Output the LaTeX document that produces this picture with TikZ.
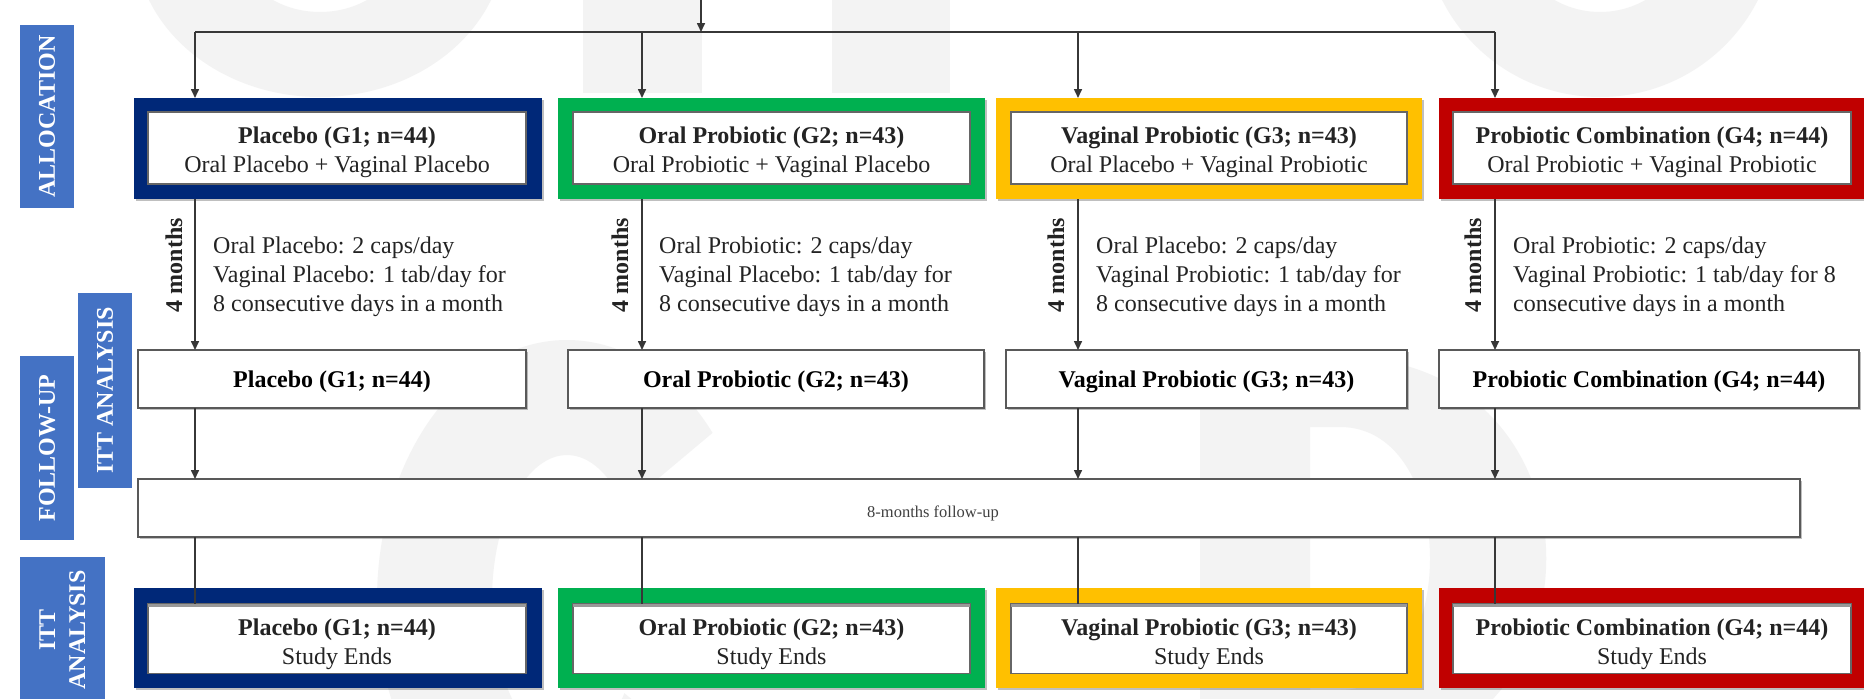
\documentclass[tikz,border=0pt]{standalone}
\usepackage{fontspec}
\setmainfont{Liberation Serif}
\usetikzlibrary{arrows.meta,calc,shadows}
\definecolor{gnavy}{RGB}{0,40,120}
\definecolor{ggreen}{RGB}{0,176,80}
\definecolor{gyellow}{RGB}{255,192,0}
\definecolor{gred}{RGB}{192,0,0}
\definecolor{lblue}{RGB}{68,114,196}
\definecolor{lin}{RGB}{55,55,55}
\definecolor{txt}{RGB}{35,35,35}
\definecolor{wm}{RGB}{243,243,243}
\begin{document}
\begin{tikzpicture}[x=1pt,y=-1pt,
  font=\fontsize{24}{29}\selectfont,
  shad/.style={drop shadow={shadow xshift=1.5pt, shadow yshift=-1.5pt, opacity=0.25, fill=black}},
  frame/.style={fill=#1, inner sep=0pt, outer sep=0pt, shad},
  innerbox/.style={fill=white, draw=black!60, line width=1.5pt, inner sep=0pt, outer sep=0pt},
  boxtext/.style={align=center, inner sep=0pt, text=txt},
  fubox/.style={fill=white, draw=black!65, line width=2pt, inner sep=0pt, outer sep=0pt, shad},
  futext/.style={inner sep=0pt, font=\fontsize{24}{29}\selectfont\bfseries, text=black},
  phase/.style={fill=lblue, text=white, inner sep=0pt, outer sep=0pt, align=center, rotate=90, font=\fontsize{24}{30}\selectfont\bfseries},
  arr/.style={draw=lin, line width=1.6pt, -{Triangle[length=9pt,width=8pt]}},
  conn/.style={draw=lin, line width=1.6pt},
  dose/.style={anchor=west, align=left, inner sep=0pt, text=txt},
  months/.style={rotate=90, font=\fontsize{24}{29}\selectfont\bfseries, inner sep=0pt, text=txt}
]
\fill[white] (0,0) rectangle (1864,699);
\useasboundingbox (0,0) rectangle (1864,699);

% faint watermark shapes
\begin{scope}
\clip (0,0) rectangle (1864,699);
\fill[wm, even odd rule] (320,-60) ellipse [x radius=185pt, y radius=157pt] (320,-60) ellipse [x radius=85pt, y radius=72pt];
\fill[wm] (583,0) rectangle (702,93);
\fill[wm] (832,0) rectangle (950,93);
\fill[wm, even odd rule] (1600,-80) circle [radius=177pt] (1600,-80) circle [radius=92pt];
\fill[wm] ($(567,600)+(40:190pt and 260pt)$) arc[start angle=40, end angle=320, x radius=190pt, y radius=260pt]
   -- ($(567,600)+(320:75pt and 145pt)$) arc[start angle=320, end angle=40, x radius=75pt, y radius=145pt] -- cycle;
\fill[wm, even odd rule] (1200,357) -- (1340,357) .. controls (1615,357) and (1615,760) .. (1340,760) -- (1200,760) -- cycle
   (1310,427) -- (1340,427) .. controls (1460,427) and (1460,690) .. (1340,690) -- (1310,690) -- cycle;
\end{scope}

% phase labels
\node[phase, minimum width=183pt, minimum height=54pt] (pAlloc) at (47,116.5) {ALLOCATION};
\node[phase, minimum width=184pt, minimum height=54pt] (pFollow) at (47,448) {FOLLOW-UP};
\node[phase, minimum width=195pt, minimum height=54pt] (pITT1) at (105,390.5) {ITT ANALYSIS};
\node[phase, minimum width=146pt, minimum height=85pt] (pITT2) at (62.5,630) {ITT\\ANALYSIS};

% allocation boxes
\node[frame=gnavy, minimum width=408pt, minimum height=101pt] (A1o) at (338,148.5) {};
\node[innerbox, minimum width=378pt, minimum height=72pt] (A1) at (337,148) {};
\node[boxtext] (A1t) at ($(A1)+(0,4)$) {\textbf{Placebo (G1; n=44)}\\Oral Placebo + Vaginal Placebo};
\node[frame=ggreen, minimum width=427pt, minimum height=101pt] (A2o) at (771.5,148.5) {};
\node[innerbox, minimum width=397pt, minimum height=72pt] (A2) at (771.5,148) {};
\node[boxtext] (A2t) at ($(A2)+(0,4)$) {\textbf{Oral Probiotic (G2; n=43)}\\Oral Probiotic + Vaginal Placebo};
\node[frame=gyellow, minimum width=426pt, minimum height=101pt] (A3o) at (1209,148.5) {};
\node[innerbox, minimum width=396pt, minimum height=72pt] (A3) at (1209,148) {};
\node[boxtext] (A3t) at ($(A3)+(0,4)$) {\textbf{Vaginal Probiotic (G3; n=43)}\\Oral Placebo + Vaginal Probiotic};
\node[frame=gred, minimum width=425pt, minimum height=101pt] (A4o) at (1651.5,148.5) {};
\node[innerbox, minimum width=398pt, minimum height=72pt] (A4) at (1652,148) {};
\node[boxtext] (A4t) at ($(A4)+(0,4)$) {\textbf{Probiotic Combination (G4; n=44)}\\Oral Probiotic + Vaginal Probiotic};

% follow-up boxes
\node[fubox, minimum width=388pt, minimum height=58pt] (F1) at (332,379) {};
\node[futext] (F1t) at ($(F1)+(0,3)$) {Placebo (G1; n=44)};
\node[fubox, minimum width=416pt, minimum height=58pt] (F2) at (776,379) {};
\node[futext] (F2t) at ($(F2)+(0,3)$) {Oral Probiotic (G2; n=43)};
\node[fubox, minimum width=401pt, minimum height=58pt] (F3) at (1206.5,379) {};
\node[futext] (F3t) at ($(F3)+(0,3)$) {Vaginal Probiotic (G3; n=43)};
\node[fubox, minimum width=420pt, minimum height=58pt] (F4) at (1649,379) {};
\node[futext] (F4t) at ($(F4)+(0,3)$) {Probiotic Combination (G4; n=44)};

% 8-months box
\node[fubox, minimum width=1662pt, minimum height=58pt] (E) at (969,508) {};
\node[inner sep=0pt, font=\fontsize{16.5}{19}\selectfont, text=black!75] (Et) at (933,513) {8-months follow-up};

% ITT boxes
\node[frame=gnavy, minimum width=408pt, minimum height=100pt] (B1o) at (338,638) {};
\node[innerbox, minimum width=378pt, minimum height=70pt] (B1) at (337,638.5) {};
\node[boxtext] (B1t) at ($(B1)+(0,6)$) {\textbf{Placebo (G1; n=44)}\\Study Ends};
\node[frame=ggreen, minimum width=427pt, minimum height=100pt] (B2o) at (771.5,638) {};
\node[innerbox, minimum width=397pt, minimum height=70pt] (B2) at (771.5,638.5) {};
\node[boxtext] (B2t) at ($(B2)+(0,6)$) {\textbf{Oral Probiotic (G2; n=43)}\\Study Ends};
\node[frame=gyellow, minimum width=426pt, minimum height=100pt] (B3o) at (1209,638) {};
\node[innerbox, minimum width=396pt, minimum height=70pt] (B3) at (1209,638.5) {};
\node[boxtext] (B3t) at ($(B3)+(0,6)$) {\textbf{Vaginal Probiotic (G3; n=43)}\\Study Ends};
\node[frame=gred, minimum width=425pt, minimum height=100pt] (B4o) at (1651.5,638) {};
\node[innerbox, minimum width=398pt, minimum height=70pt] (B4) at (1652,638.5) {};
\node[boxtext] (B4t) at ($(B4)+(0,6)$) {\textbf{Probiotic Combination (G4; n=44)}\\Study Ends};
\foreach \b in {B1,B2,B3,B4}{\draw[line width=3pt, black!40] ([yshift=-1.5pt]\b.north west) -- ([yshift=-1.5pt]\b.north east);}

% dosage texts and month labels
\node[months] (M1) at (174,265) {4 months};
\node[months] (M2) at (620,265) {4 months};
\node[months] (M3) at (1056,265) {4 months};
\node[months] (M4) at (1473,265) {4 months};
\node[dose] (D1) at (213,277) {Oral Placebo: 2 caps/day\\Vaginal Placebo: 1 tab/day for\\8 consecutive days in a month};
\node[dose] (D2) at (659,277) {Oral Probiotic: 2 caps/day\\Vaginal Placebo: 1 tab/day for\\8 consecutive days in a month};
\node[dose] (D3) at (1096,277) {Oral Placebo: 2 caps/day\\Vaginal Probiotic: 1 tab/day for\\8 consecutive days in a month};
\node[dose] (D4) at (1513,277) {Oral Probiotic: 2 caps/day\\Vaginal Probiotic: 1 tab/day for 8\\consecutive days in a month};

% connectors
\coordinate (in) at (701,-5);
\coordinate (split) at (701,32);
\coordinate (c1) at (195,32);
\coordinate (c2) at (642,32);
\coordinate (c3) at (1078,32);
\coordinate (c4) at (1495,32);
\draw[arr] (in) -- (split);
\draw[conn] (c1) -- (c4);
\foreach \i in {1,2,3,4}{
  \draw[arr] (c\i) -- (c\i |- A\i o.north);
  \draw[arr] (c\i |- A\i o.south) -- (c\i |- F\i.north);
  \draw[arr] (c\i |- F\i.south) -- (c\i |- E.north);
  \draw[conn] (c\i |- E.south) -- (c\i |- B\i.north);
}
\end{tikzpicture}
\end{document}
